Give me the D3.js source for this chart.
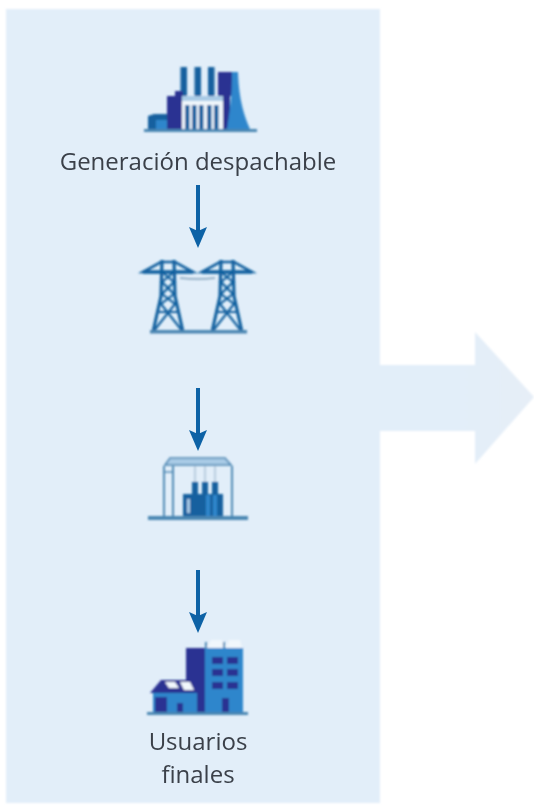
<!DOCTYPE html>
<html><head><meta charset="utf-8">
<script src="https://cdn.jsdelivr.net/npm/d3@7"></script>
<style>html,body{margin:0;padding:0;background:#fff}svg{display:block}</style>
</head><body><svg id="c" width="534" height="807"></svg>
<script>
const stages = ["generation","transmission","transformer","users"];
const firstLabel = ["Generación despachable"];
const lastLabel = ["Usuarios","finales"];
const flowSteps = ["generation-transmission","transmission-transformer","transformer-users"];

const NAVY="#2a3192", BLUE="#2f86cc", DEEP="#12609f", LIGHT="#a9cbe6", PALE="#f1f7fc", STEEL="#4a86b2", PANEL="#e2eef9", HEAD="#e6eef7", ARROW="#0d62a6", INK="#3a4049";

const svg=d3.select("#c");
const defs=svg.append("defs");
defs.append("filter").attr("id","soft").append("feGaussianBlur").attr("stdDeviation",0.9);
defs.append("filter").attr("id","edge").append("feGaussianBlur").attr("stdDeviation",1);
defs.append("filter").attr("id","txt").append("feGaussianBlur").attr("stdDeviation",0.35);
const grad=defs.append("linearGradient").attr("id","flow");
grad.append("stop").attr("offset","0%").attr("stop-color",PANEL);
grad.append("stop").attr("offset","50%").attr("stop-color",PANEL);
grad.append("stop").attr("offset","100%").attr("stop-color",HEAD);

svg.append("rect").attr("x",6).attr("y",9).attr("width",374).attr("height",794).attr("fill",PANEL).attr("filter","url(#edge)");
svg.append("path").attr("d","M370 365H475V332L534 397L475 464V431H370Z").attr("fill","url(#flow)").attr("filter","url(#edge)");

const arrowY=d3.scaleOrdinal().domain(flowSteps).range([185,388,570]);
const arrows=svg.append("g").attr("filter","url(#txt)");
flowSteps.forEach(s=>{
  const g=arrows.append("g").attr("transform",`translate(198,${arrowY(s)})`);
  g.append("rect").attr("x",-2).attr("y",0).attr("width",4).attr("height",48).attr("fill",ARROW);
  g.append("path").attr("d","M-9 42L0 63L9 42L0 46Z").attr("fill",ARROW);
});

const ic=svg.append("g").attr("filter","url(#soft)");
const R=(g,x,y,w,h,f)=>g.append("rect").attr("x",x).attr("y",y).attr("width",w).attr("height",h).attr("fill",f);
const P=(g,d,f,s,sw)=>g.append("path").attr("d",d).attr("fill",f||"none").attr("stroke",s||"none").attr("stroke-width",sw||0);

function generation(g){
  [180.5,194.5,208].forEach(x=>R(g,x,67,6.5,32,DEEP));
  P(g,"M148 129V116L154 114H167V129Z",DEEP);
  R(g,156,120,11,9,BLUE);
  P(g,"M167 129V96H175V91H183V129Z",NAVY);
  R(g,218,72,15,24,NAVY);
  R(g,222,90,8,39,NAVY);
  P(g,"M232 72H238C239 100 244 115 250 129H227C230 110 232 95 232 72Z",BLUE);
  R(g,182,96,41,33,PALE);
  R(g,182,96,41,5,LIGHT);
  [185,192,199,207,214].forEach(x=>R(g,x,105,4.5,24,DEEP));
  R(g,144,129,113,3,STEEL);
}
function tower(g,cx){
  const s=DEEP, w=2.6;
  P(g,`M${cx-25} 272L${cx-7} 262H${cx+7}L${cx+25} 272Z`,"none",s,w);
  P(g,`M${cx-25} 272H${cx+25}`,"none",s,w+1);
  P(g,`M${cx-6} 260L${cx-7} 296L${cx-15} 332M${cx+6} 260L${cx+7} 296L${cx+15} 332`,"none",s,w+0.6);
  P(g,`M${cx-6} 272L${cx+6} 282L${cx-6} 294L${cx+7} 304L${cx-15} 332M${cx+6} 272L${cx-6} 282L${cx+6} 294L${cx-7} 304L${cx+15} 332M${cx-9} 312H${cx+9}`,"none",s,w-0.4);
}
function transmission(g){
  tower(g,168); tower(g,227);
  P(g,"M180 278Q198 280 215 278","none","#7f9fb8",1.4);
  R(g,150,330,97,3.5,STEEL);
}
function transformer(g){
  P(g,"M165 465L170 458H225L231 465Z",LIGHT,STEEL,1.6);
  P(g,"M164 466V518M173 466V518M232 466V518","none",STEEL,1.9);
  P(g,"M164 472H173","none",STEEL,1.4);
  [195,205,215].forEach(x=>{
    P(g,`M${x} 466V484`,"none","#9db7cf",1.2);
    R(g,x-3,482,6,13,DEEP);
  });
  R(g,183,494,20,24,DEEP);
  R(g,187,499,3,14,LIGHT);
  R(g,203,494,20,24,DEEP);
  [206,213].forEach(x=>R(g,x,495,4,22,BLUE));
  R(g,148,516,100,4,STEEL);
}
function users(g){
  R(g,186,648,19,64,NAVY);
  R(g,205,648,38,64,BLUE);
  P(g,"M207 648L211 640H222L224 648Z",PALE);
  P(g,"M226 648L229 640H240L242 648Z",PALE);
  R(g,205,642,2,6,STEEL); R(g,223,642,2,6,STEEL);
  [212,227].forEach(x=>[657,669,682].forEach(y=>R(g,x,y,11,7,NAVY)));
  R(g,222,698,7,14,NAVY);
  P(g,"M150 693L161 680H191L197 693Z",NAVY);
  P(g,"M165 682H175L179 688H169Z",PALE);
  P(g,"M180 682H190L194 690H184Z",PALE);
  R(g,153,693,44,19,BLUE);
  R(g,155,697,12,15,NAVY);
  R(g,177,703,6,9,NAVY);
  R(g,147,712,101,3,STEEL);
}
generation(ic.append("g"));transmission(ic.append("g"));transformer(ic.append("g"));users(ic.append("g"));

const font='"Open Sans",sans-serif';
const labels=svg.append("g").attr("filter","url(#txt)");
labels.selectAll("text.a").data(firstLabel).join("text").attr("class","a")
  .attr("x",198).attr("y",170).attr("text-anchor","middle").attr("font-family",font).attr("font-size",24).attr("fill",INK).text(d=>d);
labels.selectAll("text.b").data(lastLabel).join("text").attr("class","b")
  .attr("x",198).attr("y",(d,i)=>750+i*33).attr("text-anchor","middle").attr("font-family",font).attr("font-size",24).attr("fill",INK).text(d=>d);
</script></body></html>
